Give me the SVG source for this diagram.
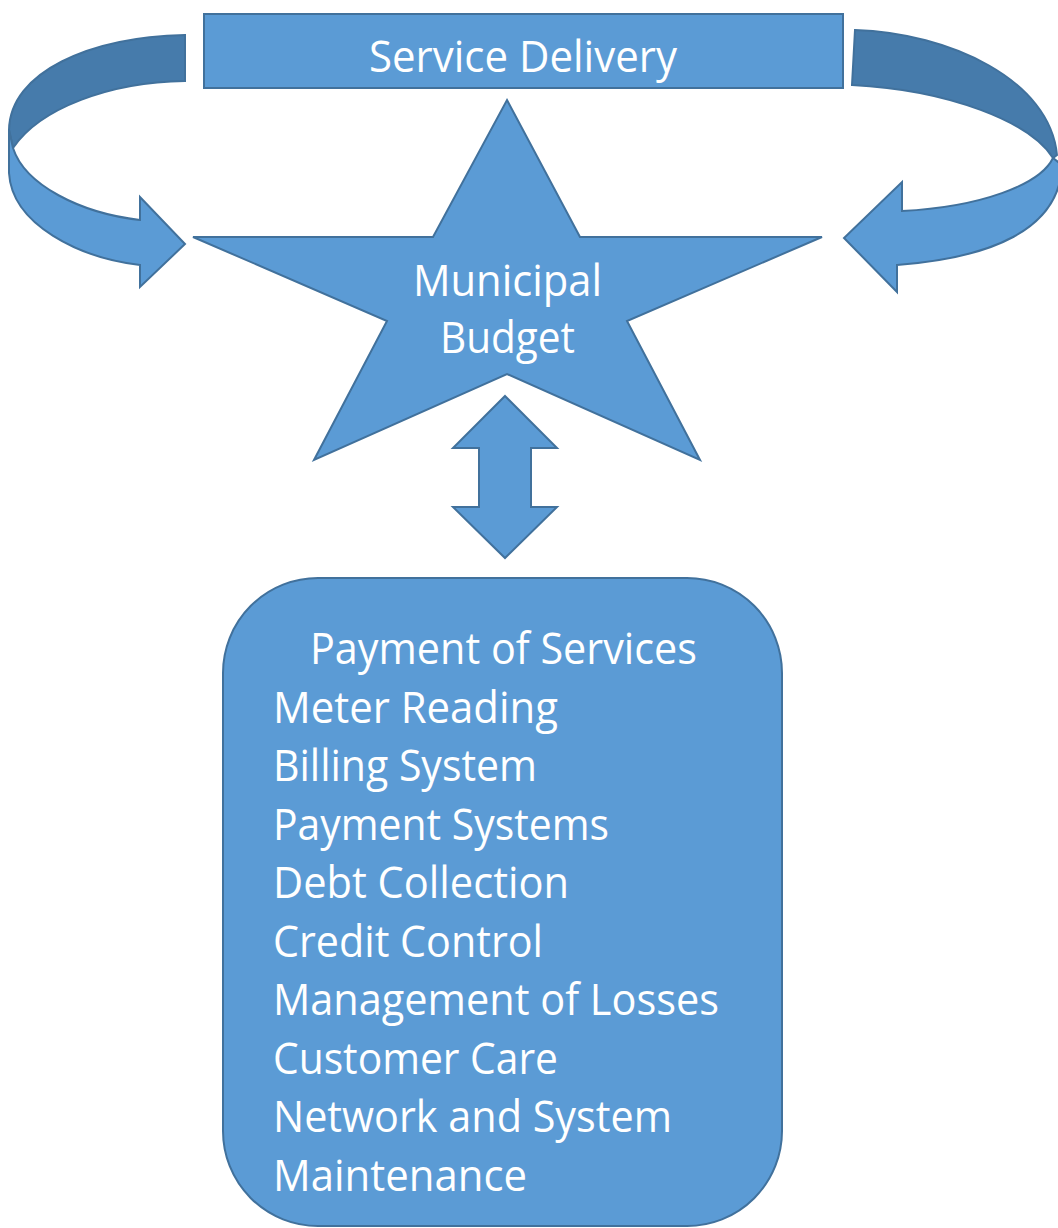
<svg xmlns="http://www.w3.org/2000/svg" width="1058" height="1228" viewBox="0 0 1058 1228">
  <style>
    .shape { fill: #5B9BD5; stroke: #41719C; stroke-width: 2; stroke-linejoin: miter; }
    .shade { fill: #467BAB; stroke: #41719C; stroke-width: 2; }
    .label { font-family: "Open Sans", Lato, "Liberation Sans", sans-serif; font-size: 44px; fill: #FFFFFF; }
  </style>
  <rect width="1058" height="1228" fill="#FFFFFF"/>

  <!-- curved loop arrows feeding back into the budget -->
  <g id="connectors">
    <g id="loop-left">
      <path class="shade" d="M185,35 C90,37 10,72 9,130 L13,148 C40,108 110,82 185,81 Z"/>
      <path class="shape" d="M9,130 L9,173 C12,225 80,258 140,265 L140,287 L185,244 L140,197 L140,220 C80,213 25,185 13,148 Z"/>
    </g>
    <g id="loop-right">
      <path class="shade" d="M855,30 C950,33 1050,80 1057,155 L1053,158 C1030,122 950,90 852,85 Z"/>
      <path class="shape" d="M1053,158 C1040,185 980,207 902,211 L902,182 L844,238 L897,292 L897,265 C990,258 1060,230 1062,165 Z"/>
    </g>
    <path id="link-budget-payment" class="shape" d="M505,396 L557,448 L531,448 L531,507 L557,507 L505,558 L453,507 L479,507 L479,448 L453,448 Z"/>
  </g>

  <g id="service-delivery">
    <rect class="shape" x="204" y="14" width="639" height="74"/>
    <text class="label" x="369" y="72" textLength="308" lengthAdjust="spacingAndGlyphs">Service Delivery</text>
  </g>

  <g id="municipal-budget">
    <polygon class="shape" points="507,100 580,237 822,237 627,321 700,460 507,374 314,460 387,321 193,237 433,237"/>
    <text class="label" x="413" y="296" textLength="189" lengthAdjust="spacingAndGlyphs">Municipal</text>
    <text class="label" x="440" y="353" textLength="135" lengthAdjust="spacingAndGlyphs">Budget</text>
  </g>

  <g id="payment-of-services">
    <rect class="shape" x="223" y="578" width="559" height="648" rx="95" ry="95"/>
    <text class="label" x="310" y="664" textLength="387" lengthAdjust="spacingAndGlyphs">Payment of Services</text>
    <text class="label" x="273" y="723" textLength="285" lengthAdjust="spacingAndGlyphs">Meter Reading</text>
    <text class="label" x="273" y="781" textLength="264" lengthAdjust="spacingAndGlyphs">Billing System</text>
    <text class="label" x="273" y="840" textLength="336" lengthAdjust="spacingAndGlyphs">Payment Systems</text>
    <text class="label" x="273" y="898" textLength="296" lengthAdjust="spacingAndGlyphs">Debt Collection</text>
    <text class="label" x="273" y="957" textLength="270" lengthAdjust="spacingAndGlyphs">Credit Control</text>
    <text class="label" x="273" y="1015" textLength="446" lengthAdjust="spacingAndGlyphs">Management of Losses</text>
    <text class="label" x="273" y="1074" textLength="285" lengthAdjust="spacingAndGlyphs">Customer Care</text>
    <text class="label" x="273" y="1132" textLength="399" lengthAdjust="spacingAndGlyphs">Network and System</text>
    <text class="label" x="273" y="1191" textLength="254" lengthAdjust="spacingAndGlyphs">Maintenance</text>
  </g>
</svg>
